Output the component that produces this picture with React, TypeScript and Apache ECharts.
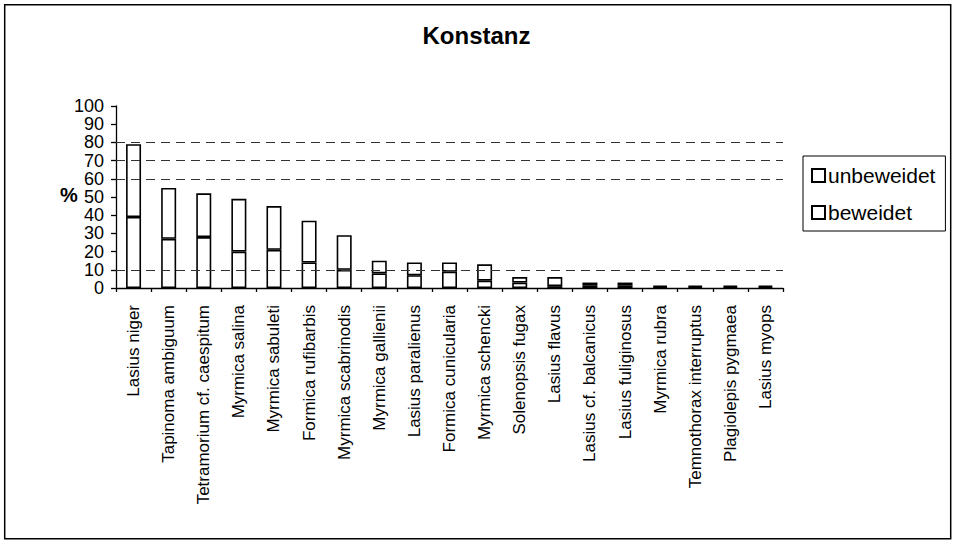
import React, { useEffect, useRef } from "react";
import * as echarts from "echarts";

const categories = [
  "Lasius niger",
  "Tapinoma ambiguum",
  "Tetramorium cf. caespitum",
  "Myrmica salina",
  "Myrmica sabuleti",
  "Formica rufibarbis",
  "Myrmica scabrinodis",
  "Myrmica gallienii",
  "Lasius paralienus",
  "Formica cunicularia",
  "Myrmica schencki",
  "Solenopsis fugax",
  "Lasius flavus",
  "Lasius cf. balcanicus",
  "Lasius fuliginosus",
  "Myrmica rubra",
  "Temnothorax interruptus",
  "Plagiolepis pygmaea",
  "Lasius myops",
];

// bottom segment
const beweidet = [39, 27, 28, 20, 21, 14, 10, 8, 7, 9, 4, 3, 1, 1.5, 1.5, 0.6, 0.6, 0.6, 0.6];
// top segment
const unbeweidet = [40, 28, 24, 29, 24, 23, 19, 7, 7, 5, 9, 3, 5, 1.5, 1.5, 0.7, 0.7, 0.7, 0.7];

const yTicks = { min: 0, max: 100, interval: 10 };
const refLines = [10, 60, 70, 80];

export default function App() {
  const ref = useRef<HTMLDivElement>(null);

  useEffect(() => {
    document.body.style.margin = "0";
    if (!ref.current) return;
    const chart = echarts.init(ref.current, null, { renderer: "svg" });
    const barStyle = {
      color: "#ffffff",
      borderColor: "#000000",
      borderWidth: 1.6,
    };
    chart.setOption({
      animation: false,
      backgroundColor: "#ffffff",
      title: {
        text: "Konstanz",
        left: "center",
        top: 18,
        textStyle: {
          fontFamily: "Liberation Sans, Arial, sans-serif",
          fontWeight: "bold",
          fontSize: 24,
          color: "#000",
        },
      },
      legend: {
        data: ["unbeweidet", "beweidet"],
        orient: "vertical",
        left: 803,
        top: 156,
        padding: [9, 10, 8, 8],
        itemGap: 16,
        itemWidth: 13,
        itemHeight: 13,
        icon: "rect",
        borderColor: "#000",
        borderWidth: 1,
        backgroundColor: "#fff",
        textStyle: {
          fontFamily: "Liberation Sans, Arial, sans-serif",
          fontSize: 21,
          color: "#000",
          padding: [0, 0, 0, -2],
        },
      },
      grid: {
        left: 116,
        right: 170,
        top: 106,
        bottom: 253,
        containLabel: false,
      },
      xAxis: {
        type: "category",
        data: categories,
        axisLine: { lineStyle: { color: "#000", width: 1.3 } },
        axisTick: { show: true, length: 4, lineStyle: { color: "#000", width: 1.3 } },
        axisLabel: {
          rotate: 90,
          interval: 0,
          margin: 17,
          fontFamily: "Liberation Sans, Arial, sans-serif",
          fontSize: 17,
          color: "#000",
        },
        splitLine: { show: false },
      },
      yAxis: {
        type: "value",
        min: yTicks.min,
        max: yTicks.max,
        interval: yTicks.interval,
        axisLine: { show: true, lineStyle: { color: "#000", width: 1.3 } },
        axisTick: { show: true, length: 5, lineStyle: { color: "#000", width: 1.3 } },
        axisLabel: {
          margin: 12,
          showMinLabel: true,
          showMaxLabel: true,
          hideOverlap: false,
          fontFamily: "Liberation Sans, Arial, sans-serif",
          fontSize: 18,
          lineHeight: 16,
          color: "#000",
        },
        splitLine: { show: false },
      },
      graphic: [
        {
          type: "rect",
          shape: { x: 4.7, y: 4.7, width: 946, height: 534 },
          style: { fill: "none", stroke: "#000", lineWidth: 1.5 },
          silent: true,
        },
        {
          type: "text",
          x: 69,
          y: 195,
          style: {
            text: "%",
            fontFamily: "Liberation Sans, Arial, sans-serif",
            fontWeight: "bold",
            fontSize: 20,
            fill: "#000",
            align: "center",
            verticalAlign: "middle",
          },
        },
      ],
      series: [
        {
          name: "refs",
          type: "line",
          data: [],
          z: 1,
          silent: true,
          markLine: {
            silent: true,
            symbol: "none",
            label: { show: false },
            lineStyle: { color: "#333", width: 1.2, type: [9, 6] },
            data: refLines.map((v) => ({ yAxis: v })),
          },
        },
        {
          name: "beweidet",
          type: "bar",
          stack: "total",
          data: beweidet,
          barWidth: 15,
          z: 3,
          itemStyle: barStyle,
        },
        {
          name: "unbeweidet",
          type: "bar",
          stack: "total",
          data: unbeweidet,
          barWidth: 15,
          z: 3,
          itemStyle: barStyle,
        },
      ],
    });
    return () => chart.dispose();
  }, []);

  return <div ref={ref} style={{ width: 953, height: 541 }} />;
}
